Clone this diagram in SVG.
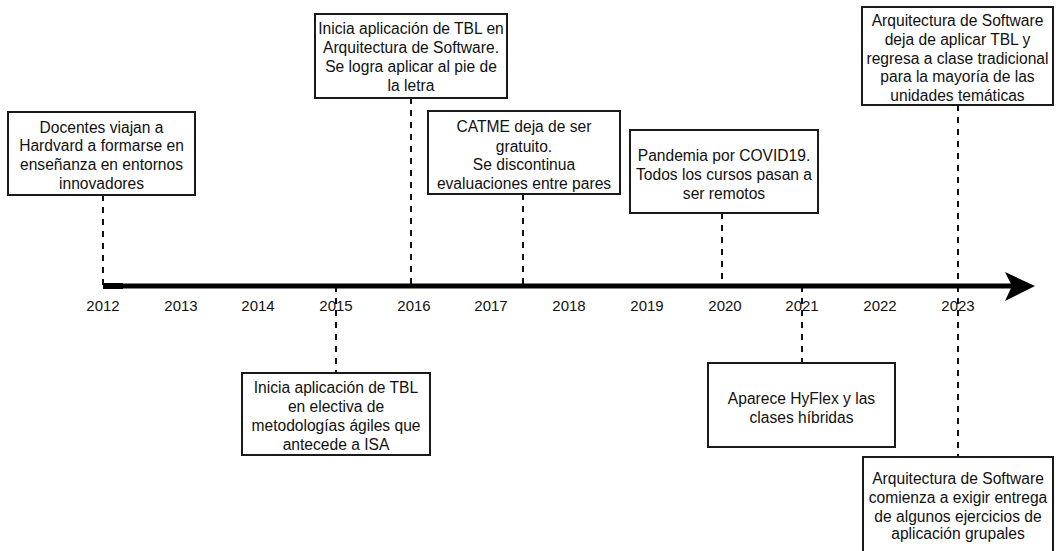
<svg xmlns="http://www.w3.org/2000/svg" width="1056" height="551" viewBox="0 0 1056 551">
  <style>
    .box { fill: #ffffff; stroke: #1a1a1a; stroke-width: 2; }
    .lbl { font-family: "Liberation Sans", Arial, sans-serif; font-size: 15.6px; fill: #111111; text-anchor: middle; }
    .year { font-family: "Liberation Sans", Arial, sans-serif; font-size: 15px; fill: #111111; text-anchor: middle; }
    .dash { fill: none; stroke: #111111; stroke-width: 2; stroke-dasharray: 6 6; }
  </style>

  <rect width="1056" height="551" fill="#ffffff"/>

  <!-- connectors: dashed leaders between events and the time axis -->
  <g id="connectors">
    <line class="dash" x1="103" y1="195" x2="103" y2="286"/>
    <line class="dash" x1="411" y1="98" x2="411" y2="286"/>
    <line class="dash" x1="523" y1="194" x2="523" y2="286"/>
    <line class="dash" x1="722" y1="213" x2="722" y2="286"/>
    <line class="dash" x1="958" y1="105" x2="958" y2="286"/>
    <line class="dash" x1="336" y1="286" x2="336" y2="373"/>
    <line class="dash" x1="802" y1="286" x2="802" y2="363"/>
    <line class="dash" x1="958" y1="286" x2="958" y2="457"/>
  </g>

  <!-- time axis -->
  <g id="axis">
    <line x1="103" y1="286" x2="1014" y2="286" stroke="#000" stroke-width="5"/>
    <rect x="103" y="283" width="20" height="6" fill="#000"/>
    <path d="M1035 286 L1005 272 L1012 286 L1005 301 Z" fill="#000"/>
  </g>

  <!-- year labels -->
  <g id="years">
    <text class="year" x="103" y="311">2012</text>
    <text class="year" x="181" y="311">2013</text>
    <text class="year" x="258" y="311">2014</text>
    <text class="year" x="336" y="311">2015</text>
    <text class="year" x="414" y="311">2016</text>
    <text class="year" x="491" y="311">2017</text>
    <text class="year" x="569" y="311">2018</text>
    <text class="year" x="647" y="311">2019</text>
    <text class="year" x="725" y="311">2020</text>
    <text class="year" x="802" y="311">2021</text>
    <text class="year" x="880" y="311">2022</text>
    <text class="year" x="958" y="311">2023</text>
  </g>

  <g id="ev2012">
    <rect class="box" x="8" y="112" width="187" height="83"/>
    <text class="lbl" x="101.5" y="132.5">Docentes viajan a</text>
    <text class="lbl" x="101.5" y="151">Hardvard a formarse en</text>
    <text class="lbl" x="101.5" y="170">enseñanza en entornos</text>
    <text class="lbl" x="101.5" y="188.5">innovadores</text>
  </g>

  <g id="ev2016">
    <rect class="box" x="315" y="14" width="192" height="84"/>
    <text class="lbl" x="411" y="33.5">Inicia aplicación de TBL en</text>
    <text class="lbl" x="411" y="53">Arquitectura de Software.</text>
    <text class="lbl" x="411" y="72">Se logra aplicar al pie de</text>
    <text class="lbl" x="411" y="91">la letra</text>
  </g>

  <g id="ev2017">
    <rect class="box" x="428" y="111" width="192" height="83"/>
    <text class="lbl" x="524" y="132">CATME deja de ser</text>
    <text class="lbl" x="524" y="151.5">gratuito.</text>
    <text class="lbl" x="524" y="170">Se discontinua</text>
    <text class="lbl" x="524" y="189">evaluaciones entre pares</text>
  </g>

  <g id="ev2020">
    <rect class="box" x="630" y="130" width="188" height="83"/>
    <text class="lbl" x="724" y="160.5">Pandemia por COVID19.</text>
    <text class="lbl" x="724" y="180">Todos los cursos pasan a</text>
    <text class="lbl" x="724" y="198.5">ser remotos</text>
  </g>

  <g id="ev2023a">
    <rect class="box" x="862" y="7" width="191" height="98"/>
    <text class="lbl" x="957.5" y="25.5">Arquitectura de Software</text>
    <text class="lbl" x="957.5" y="45">deja de aplicar TBL y</text>
    <text class="lbl" x="957.5" y="64">regresa a clase tradicional</text>
    <text class="lbl" x="957.5" y="82">para la mayoría de las</text>
    <text class="lbl" x="957.5" y="100.5">unidades temáticas</text>
  </g>

  <g id="ev2015">
    <rect class="box" x="242" y="373" width="188" height="82"/>
    <text class="lbl" x="336" y="392.5">Inicia aplicación de TBL</text>
    <text class="lbl" x="336" y="412">en electiva de</text>
    <text class="lbl" x="336" y="431">metodologías ágiles que</text>
    <text class="lbl" x="336" y="449.5">antecede a ISA</text>
  </g>

  <g id="ev2021">
    <rect class="box" x="708" y="363" width="187" height="84"/>
    <text class="lbl" x="801.5" y="403.5">Aparece HyFlex y las</text>
    <text class="lbl" x="801.5" y="422.5">clases híbridas</text>
  </g>

  <g id="ev2023b">
    <rect class="box" x="863" y="457" width="190" height="100"/>
    <text class="lbl" x="958" y="483.5">Arquitectura de Software</text>
    <text class="lbl" x="958" y="502.5">comienza a exigir entrega</text>
    <text class="lbl" x="958" y="521.5">de algunos ejercicios de</text>
    <text class="lbl" x="958" y="539">aplicación grupales</text>
  </g>
</svg>
